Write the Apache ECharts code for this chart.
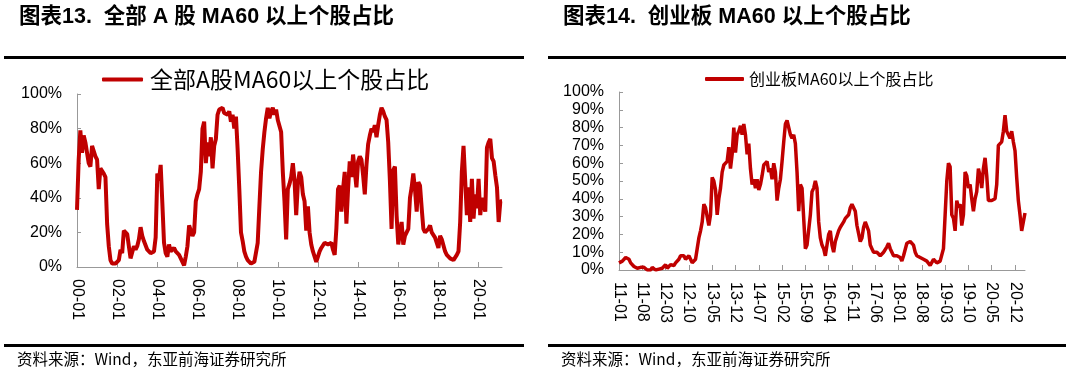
<!DOCTYPE html>
<html><head><meta charset="utf-8">
<script src="https://cdn.jsdelivr.net/npm/echarts@6/dist/echarts.min.js"></script>
<style>html,body{margin:0;padding:0;background:#fff}#c{width:1080px;height:371px}</style>
</head><body><div id="c"></div>
<script>
// ---- data ----
const leftTitle = '图表13.  全部 A 股 MA60 以上个股占比';
const rightTitle = '图表14.  创业板 MA60 以上个股占比';
const sourceText = '资料来源：Wind，东亚前海证券研究所';
const leftName = '全部A股MA60以上个股占比';
const rightName = '创业板MA60以上个股占比';
const leftStart = [2000, 1];   // monthly
const rightStart = [2011, 1];  // half-monthly
const leftValues = [
33,62,79,66,76,72,73,60,58,70,
71,64,62,45,57,56,54,52,25,12,
4,2,3,2,3,4,10,8,21,20,
19,12,5,6,12,10,12,16,23,18,
15,14,10,9,8,8,9,17,54,50,
59,37,14,8,6,13,9,8,11,9,
10,7,5,4,1,6,12,24,21,18,
20,38,42,45,55,80,84,60,72,64,
75,57,70,74,88,91,92,92,89,90,
88,90,84,88,80,87,68,45,20,15,
9,6,4,3,2,2,3,4,14,35,
55,68,78,86,92,86,90,92,88,91,
85,84,78,55,38,16,45,48,52,60,
50,30,48,55,52,42,38,21,35,20,
13,9,6,3,6,9,11,12,14,15,
13,14,14,10,7,22,45,47,32,45,
55,25,45,61,52,65,66,46,61,64,
62,53,42,59,71,76,80,78,82,75,
82,88,92,90,87,85,72,50,22,56,
58,30,13,12,26,13,18,20,22,40,
46,54,45,32,49,47,34,22,20,19,
22,24,20,19,17,16,11,18,16,15,
9,7,6,5,4,4,5,7,9,26,
55,70,50,30,46,26,51,28,42,34,
51,30,40,40,32,69,72,74,63,61,
53,46,26,38,38];
const rightValues = [
4,3,5,6,7,8,6,4,3,2,
1.5,1,1,1.5,1,1.5,0.5,0,0.5,0,
1.5,0.5,0,1,0.5,0,1,2,3,1,
2,3,3.5,2.5,4,5,6,8,7,8,
6,5,8,6,4,3,6,12,18,22,
27,37,35,30,25,31,52,50,45,31,
40,46,55,59,58,61,69,57,65,80,
66,76,78,81,76,82,76,65,71,57,
48,51,46,51,45,48,53,59,60,61,
55,57,51,60,55,39,46,51,61,72,
82,84,83,76,74,76,71,55,33,48,
46,46,12,14,14,31,44,46,50,46,
27,18,14,12,8,14,20,22,14,10,
16,16,22,24,25,27,29,30,31,35,
37,38,33,25,24,16,18,24,27,28,
22,14,12,10,10,10,9,8,7,10,
11,13,15,12,10,8,9,8,9,7,
5,8,8,15,16,16,17,14,10,8,
9,7,6,6,5,5,4,2.5,3.5,6,
5,4,5,5,6,12,31,50,60,58,
31,29,22,39,35,37,25,31,55,53,
46,48,40,33,40,44,57,53,46,57,
63,53,39,40,39,39,40,48,70,71,
72,78,87,78,79,74,78,72,67,52,
39,31,22,27,32];

// ---- categories ----
function pad(n){return (n<10?'0':'')+n;}
const leftCats = [];
for (let i=0;i<leftValues.length;i++){const t=leftStart[0]*12+leftStart[1]-1+i;leftCats.push(Math.floor(t/12)+'-'+pad(t%12+1));}
const rightCats = [];
for (let i=0;i<rightValues.length;i++){const t=rightStart[0]*12+rightStart[1]-1+Math.floor(i/2);rightCats.push(Math.floor(t/12)+'-'+pad(t%12+1)+(i%2?'-16':'-01'));}

const LAT = '"Liberation Sans", Arial, "Noto Sans CJK SC", sans-serif';
const CJK = '"Noto Sans CJK SC", sans-serif';
const RED = '#C00000';
const AX = '#999999';

function yAxis(gi, interval){
  return {type:'value', gridIndex:gi, min:0, max:100, interval:interval,
    axisLine:{show:true, lineStyle:{color:AX, width:1}},
    axisTick:{show:true, inside:true, length:4, lineStyle:{color:AX}},
    splitLine:{show:false},
    axisLabel:{formatter:'{value}%', margin:15, fontSize:16, color:'#000', fontFamily:LAT}};
}
function xAxis(gi, cats, interval, fmt){
  return {type:'category', gridIndex:gi, data:cats, boundaryGap:false,
    axisLine:{show:true, lineStyle:{color:AX, width:1}},
    axisTick:{show:true, inside:true, length:5, interval:interval, lineStyle:{color:AX}},
    axisLabel:{interval:interval, rotate:-90, margin:12, fontSize:16, color:'#000', fontFamily:LAT, formatter:fmt}};
}

const chart = echarts.init(document.getElementById('c'), null, {renderer:'canvas'});
chart.setOption({
  animation:false,
  backgroundColor:'#fff',
  grid:[{left:77, top:94, width:425, height:173},{left:619, top:92, width:406, height:178}],
  xAxis:[xAxis(0,leftCats,23,v=>v.slice(2)), xAxis(1,rightCats,13,v=>v.slice(2,7))],
  yAxis:[yAxis(0,20), yAxis(1,10)],
  legend:[
    {data:[leftName], left:102, top:68, padding:0, icon:'roundRect', itemWidth:41, itemHeight:4,
     textStyle:{fontSize:23, fontFamily:CJK, color:'#000', padding:[0,0,0,2]}},
    {data:[rightName], left:705, top:71, padding:0, icon:'roundRect', itemWidth:39, itemHeight:4,
     textStyle:{fontSize:16, fontFamily:CJK, color:'#000'}}
  ],
  series:[
    {name:leftName, type:'line', xAxisIndex:0, yAxisIndex:0, data:leftValues, symbol:'none',
     lineStyle:{color:RED, width:4}, itemStyle:{color:RED}},
    {name:rightName, type:'line', xAxisIndex:1, yAxisIndex:1, data:rightValues, symbol:'none',
     lineStyle:{color:RED, width:3.5}, itemStyle:{color:RED}}
  ],
  graphic:[
    {type:'text', left:19, top:6, style:{text:leftTitle, fontSize:21.5, fontWeight:'bold', fontFamily:LAT, fill:'#000'}},
    {type:'text', left:563, top:6, style:{text:rightTitle, fontSize:21.5, fontWeight:'bold', fontFamily:LAT, fill:'#000'}},
    {type:'line', shape:{x1:4, y1:57.5, x2:524, y2:57.5}, style:{stroke:'#000', lineWidth:3}},
    {type:'line', shape:{x1:548, y1:57.5, x2:1066, y2:57.5}, style:{stroke:'#000', lineWidth:3}},
    {type:'line', shape:{x1:4, y1:345.5, x2:524, y2:345.5}, style:{stroke:'#000', lineWidth:3}},
    {type:'line', shape:{x1:548, y1:345.5, x2:1066, y2:345.5}, style:{stroke:'#000', lineWidth:3}},
    {type:'text', left:17, top:351, style:{text:sourceText, fontSize:15.5, fontFamily:CJK, fill:'#000'}},
    {type:'text', left:561, top:351, style:{text:sourceText, fontSize:15.5, fontFamily:CJK, fill:'#000'}}
  ]
});
</script></body></html>
